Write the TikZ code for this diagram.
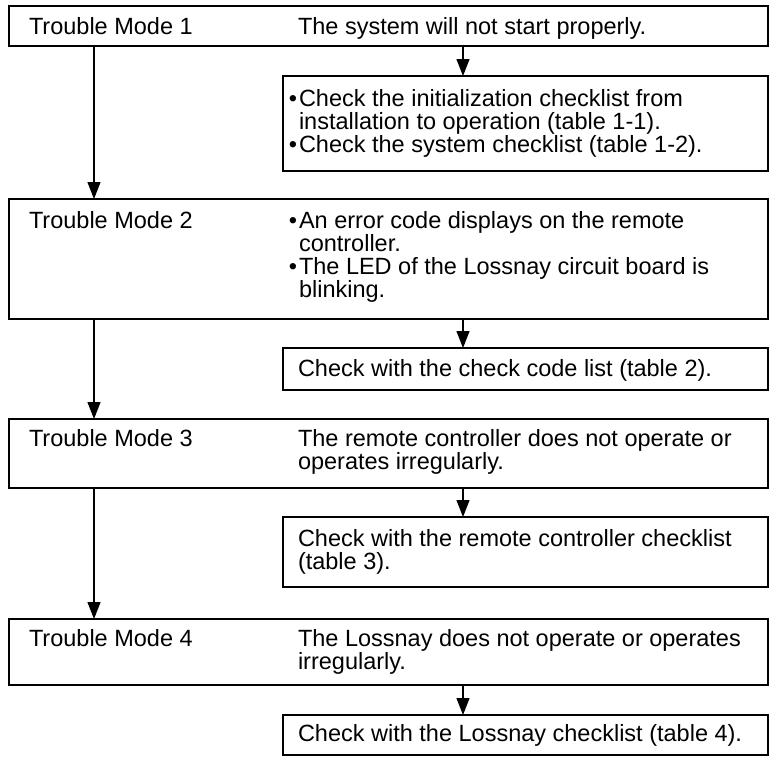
\documentclass[tikz,border=0pt]{standalone}
\usepackage{fontspec}
\setmainfont{Liberation Sans}
\usetikzlibrary{arrows.meta}
\tikzset{
  box/.style={draw=black, line width=1.2pt, inner sep=0pt, outer sep=0pt, anchor=north west, fill=white},
  txt/.style={inner sep=0pt, outer sep=0pt, anchor=base west, font=\fontsize{23.5}{23}\selectfont},
  bul/.style={inner sep=0pt, outer sep=0pt, anchor=base east, font=\fontsize{23.5}{23}\selectfont},
  arr/.style={draw=black, line width=1.2pt, -{Triangle[width=13pt,length=17pt]}},
}
\begin{document}
\begin{tikzpicture}[x=1pt,y=-1pt]
\useasboundingbox (0,0) rectangle (770,756);
% boxes
\node[box, minimum width=759pt, minimum height=40pt] (m1) at (9,6) {};
\node[box, minimum width=485pt, minimum height=95pt] (c1) at (283,76) {};
\node[box, minimum width=759pt, minimum height=120pt] (m2) at (9,199) {};
\node[box, minimum width=485pt, minimum height=42pt] (c2) at (283,348) {};
\node[box, minimum width=759pt, minimum height=69pt] (m3) at (9,419) {};
\node[box, minimum width=485pt, minimum height=70pt] (c3) at (283,517) {};
\node[box, minimum width=759pt, minimum height=66pt] (m4) at (9,619) {};
\node[box, minimum width=485pt, minimum height=40pt] (c4) at (283,715) {};
\coordinate (lx) at (94,0);
\coordinate (rx) at (463,0);
% texts
\node[txt] (t1) at (29,34) {Trouble Mode 1};
\node[txt] (d1) at (298,34) {The system will not start properly.};
\node[bul] (b1a) at (297,106) {•};
\node[txt] (c1a) at (299,106) {Check the initialization checklist from};
\node[txt] (c1b) at (299,129) {installation to operation (table 1-1).};
\node[bul] (b1b) at (297,152) {•};
\node[txt] (c1c) at (299,152) {Check the system checklist (table 1-2).};

\node[txt] (t2) at (29,228) {Trouble Mode 2};
\node[bul] (b2a) at (297,228) {•};
\node[txt] (d2a) at (299,228) {An error code displays on the remote};
\node[txt] (d2b) at (299,251) {controller.};
\node[bul] (b2b) at (297,274) {•};
\node[txt] (d2c) at (299,274) {The LED of the Lossnay circuit board is};
\node[txt] (d2d) at (299,297) {blinking.};
\node[txt] (c2a) at (298,376) {Check with the check code list (table 2).};

\node[txt] (t3) at (29,446) {Trouble Mode 3};
\node[txt] (d3a) at (298,446) {The remote controller does not operate or};
\node[txt] (d3b) at (298,469) {operates irregularly.};
\node[txt] (c3a) at (298,546) {Check with the remote controller checklist};
\node[txt] (c3b) at (298,569) {(table 3).};

\node[txt] (t4) at (29,646) {Trouble Mode 4};
\node[txt] (d4a) at (298,646) {The Lossnay does not operate or operates};
\node[txt] (d4b) at (298,669) {irregularly.};
\node[txt] (c4a) at (298,741) {Check with the Lossnay checklist (table 4).};
% arrows
\draw[arr] (m1.south -| rx) -- (c1.north -| rx);
\draw[arr] (m2.south -| rx) -- (c2.north -| rx);
\draw[arr] (m3.south -| rx) -- (c3.north -| rx);
\draw[arr] (m4.south -| rx) -- (c4.north -| rx);
\draw[arr] (m1.south -| lx) -- (m2.north -| lx);
\draw[arr] (m2.south -| lx) -- (m3.north -| lx);
\draw[arr] (m3.south -| lx) -- (m4.north -| lx);
\end{tikzpicture}
\end{document}
